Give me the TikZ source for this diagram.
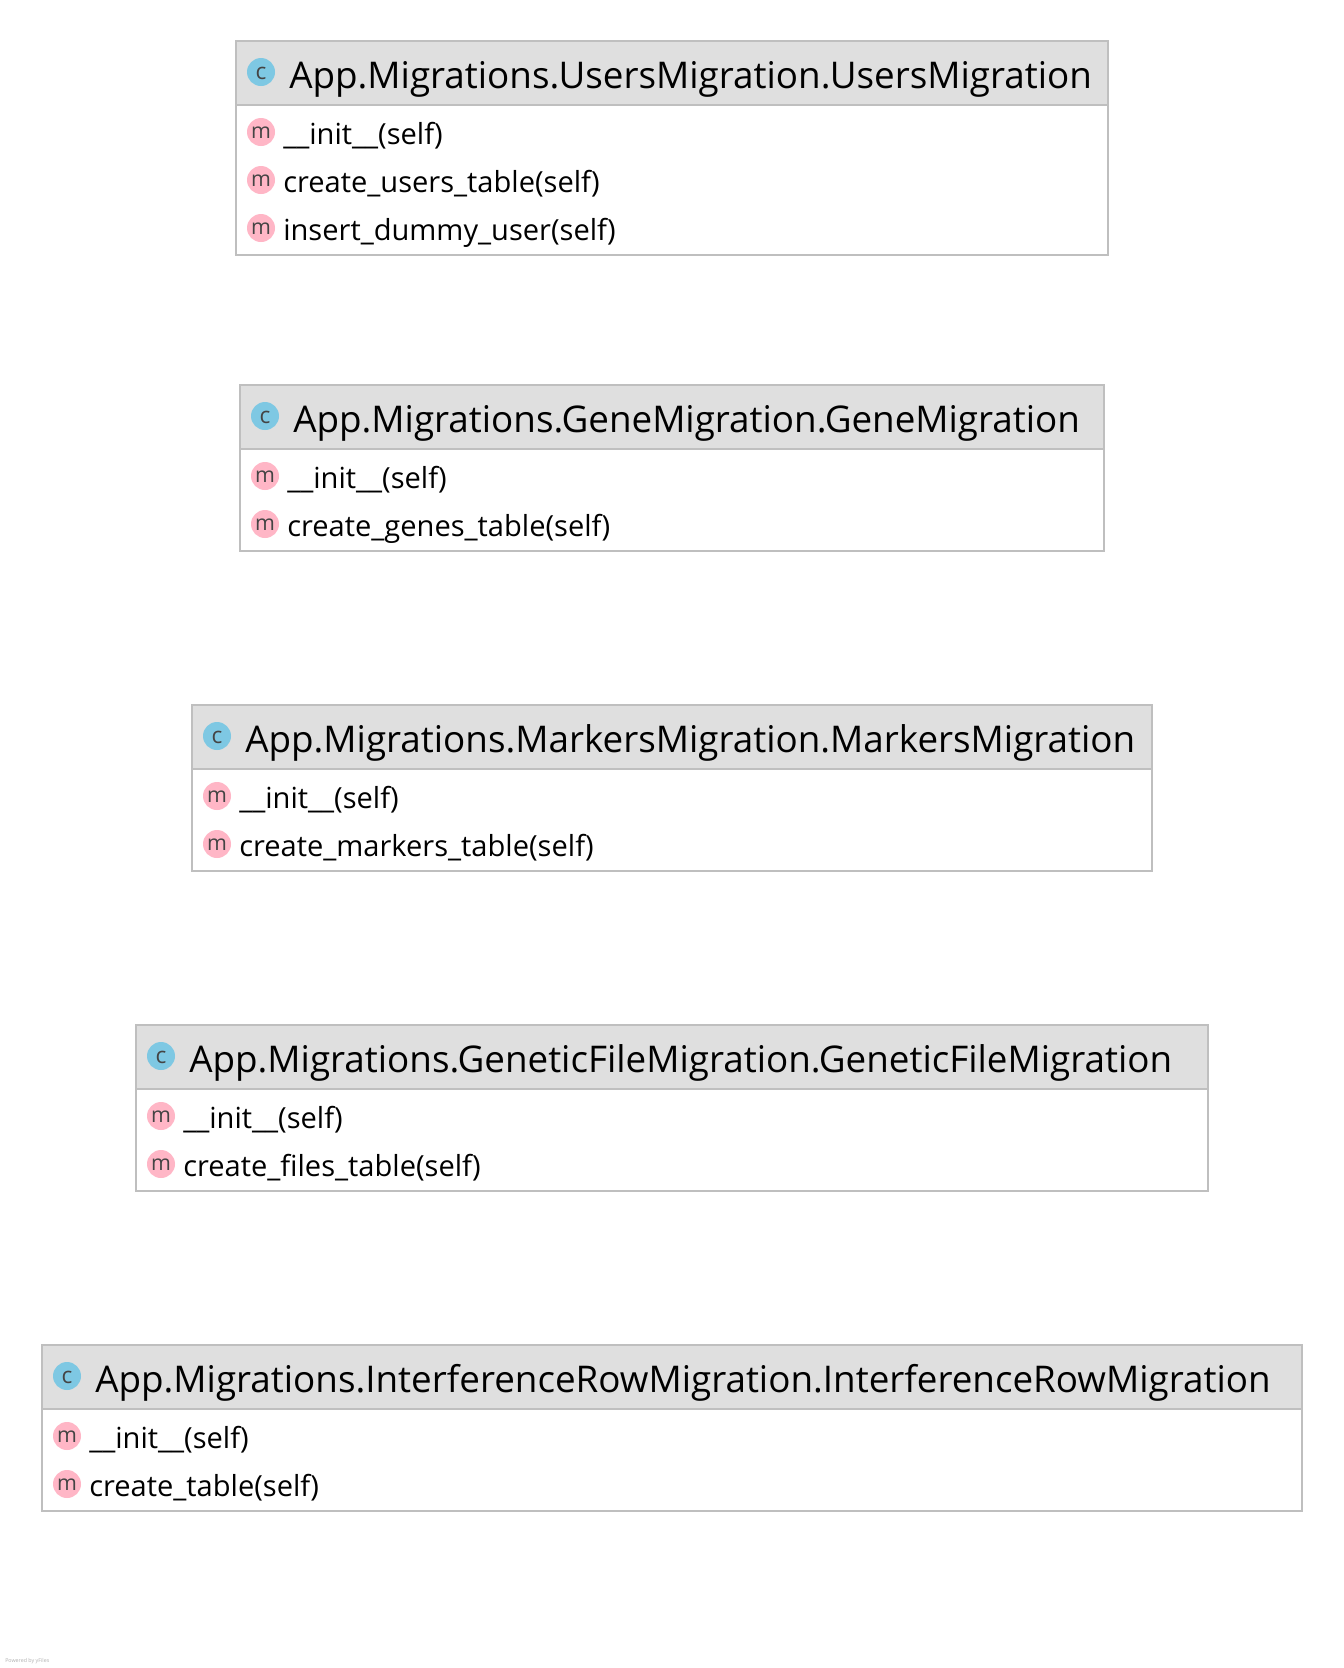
\documentclass[tikz,border=0pt]{standalone}
\usepackage{fontspec}
\usepackage{xcolor}
\setmainfont{Open Sans}
\usetikzlibrary{positioning}
\definecolor{headgray}{HTML}{DFDFDF}
\definecolor{edgegray}{HTML}{BFBFBF}
\definecolor{classblue}{HTML}{7EC8E3}
\definecolor{methodpink}{HTML}{FFB6C6}
\definecolor{icongray}{HTML}{444444}
\tikzset{
  titlelabel/.style={anchor=base west,inner sep=0pt,font=\fontsize{27.6}{30}\selectfont,text=black},
  methodlabel/.style={anchor=base west,inner sep=0pt,font=\fontsize{21.8}{25}\selectfont,text=black},
  classicon/.style={circle,fill=classblue,minimum size=21pt,inner sep=0pt,text height=11pt,text depth=0pt,font=\fontsize{17}{17}\selectfont,text=icongray},
  methodicon/.style={circle,fill=methodpink,minimum size=21pt,inner sep=0pt,text height=10pt,text depth=0pt,font=\fontsize{16}{16}\selectfont,text=icongray},
  classbox/.style={draw=edgegray,line width=1.5pt}
}
\begin{document}
\begin{tikzpicture}[x=.75pt,y=-.75pt]
  \useasboundingbox (0,0) rectangle (1344,1668);
  \fill[white] (0,0) rectangle (1344,1668);

  % users
  \fill[headgray] (236,41) rectangle (1108,105);
  \draw[classbox] (236,41) rectangle (1108,255);
  \draw[classbox] (236,105)--(1108,105);
  \node[classicon] (usersicon) at (261,72) {c};
  \node[titlelabel] (userstitle) at (289,88) {App.Migrations.UsersMigration.UsersMigration};
  \node[methodicon] (usersa) at (261,132) {m};
  \node[methodlabel] (usersinit) at (283,144) {\_\_init\_\_(self)};
  \node[methodicon] (usersb) at (261,180) {m};
  \node[methodlabel] (userscreate) at (283,192) {create\_users\_table(self)};
  \node[methodicon] (usersc) at (261,228) {m};
  \node[methodlabel] (usersinsert) at (283,240) {insert\_dummy\_user(self)};

  % genes
  \fill[headgray] (240,385) rectangle (1104,449);
  \draw[classbox] (240,385) rectangle (1104,551);
  \draw[classbox] (240,449)--(1104,449);
  \node[classicon] (genesicon) at (265,416) {c};
  \node[titlelabel] (genestitle) at (293,432) {App.Migrations.GeneMigration.GeneMigration};
  \node[methodicon] (genesa) at (265,476) {m};
  \node[methodlabel] (genesinit) at (287,488) {\_\_init\_\_(self)};
  \node[methodicon] (genesb) at (265,524) {m};
  \node[methodlabel] (genescreate) at (287,536) {create\_genes\_table(self)};

  % markers
  \fill[headgray] (192,705) rectangle (1152,769);
  \draw[classbox] (192,705) rectangle (1152,871);
  \draw[classbox] (192,769)--(1152,769);
  \node[classicon] (markersicon) at (217,736) {c};
  \node[titlelabel] (markerstitle) at (245,752) {App.Migrations.MarkersMigration.MarkersMigration};
  \node[methodicon] (markersa) at (217,796) {m};
  \node[methodlabel] (markersinit) at (239,808) {\_\_init\_\_(self)};
  \node[methodicon] (markersb) at (217,844) {m};
  \node[methodlabel] (markerscreate) at (239,856) {create\_markers\_table(self)};

  % files
  \fill[headgray] (136,1025) rectangle (1208,1089);
  \draw[classbox] (136,1025) rectangle (1208,1191);
  \draw[classbox] (136,1089)--(1208,1089);
  \node[classicon] (filesicon) at (161,1056) {c};
  \node[titlelabel] (filestitle) at (189,1072) {App.Migrations.GeneticFileMigration.GeneticFileMigration};
  \node[methodicon] (filesa) at (161,1116) {m};
  \node[methodlabel] (filesinit) at (183,1128) {\_\_init\_\_(self)};
  \node[methodicon] (filesb) at (161,1164) {m};
  \node[methodlabel] (filescreate) at (183,1176) {create\_files\_table(self)};

  % interference
  \fill[headgray] (42,1345) rectangle (1302,1409);
  \draw[classbox] (42,1345) rectangle (1302,1511);
  \draw[classbox] (42,1409)--(1302,1409);
  \node[classicon] (rowicon) at (67,1376) {c};
  \node[titlelabel] (rowtitle) at (95,1392) {App.Migrations.InterferenceRowMigration.InterferenceRowMigration};
  \node[methodicon] (rowa) at (67,1436) {m};
  \node[methodlabel] (rowinit) at (89,1448) {\_\_init\_\_(self)};
  \node[methodicon] (rowb) at (67,1484) {m};
  \node[methodlabel] (rowcreate) at (89,1496) {create\_table(self)};

  \node[anchor=base west,inner sep=0pt,font=\fontsize{4}{5}\selectfont,text=black!30] (poweredby) at (5,1662) {Powered by yFiles};
\end{tikzpicture}
\end{document}
